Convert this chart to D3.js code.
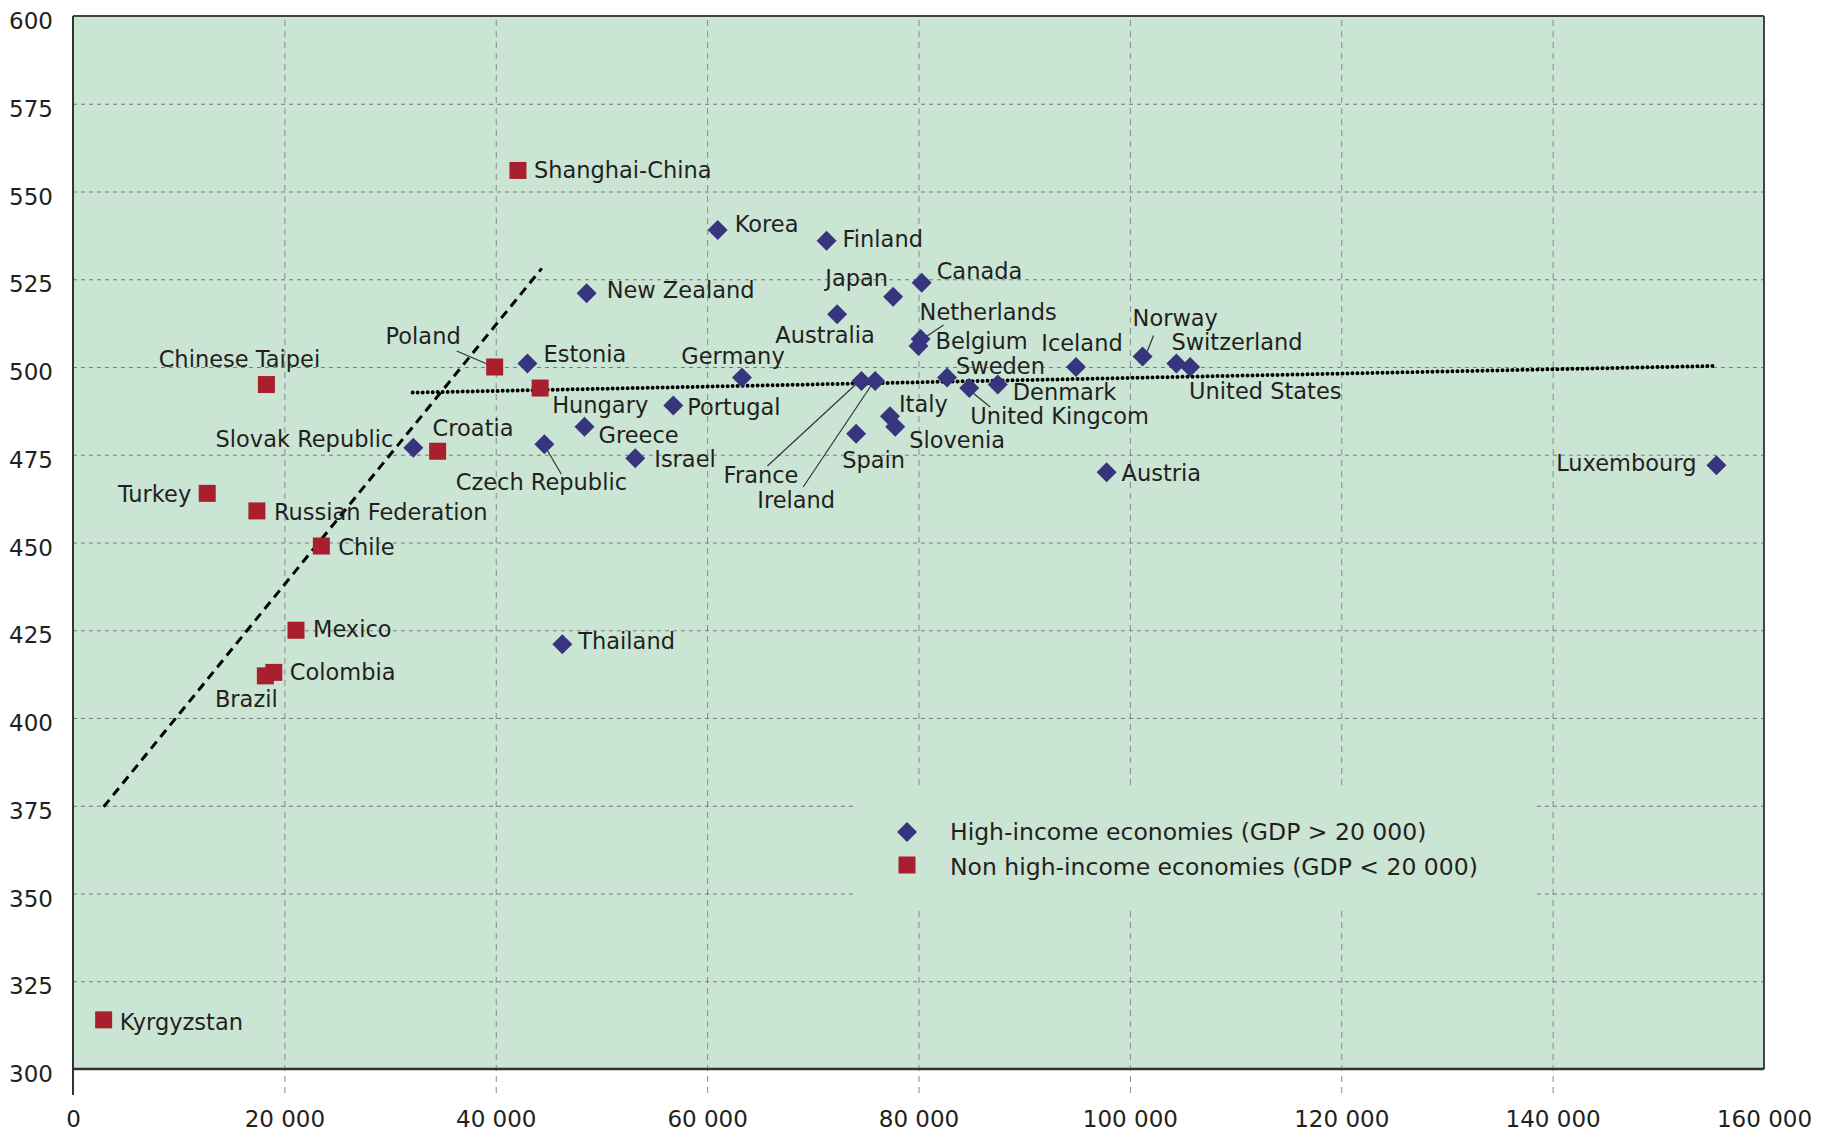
<!DOCTYPE html>
<html><head><meta charset="utf-8">
<script src="https://cdn.jsdelivr.net/npm/d3@7"></script>
<style>
html,body{margin:0;padding:0;background:#fff;}
text{font-family:"DejaVu Sans",sans-serif;fill:#231f20;}
</style></head>
<body>
<svg id="chart" width="1826" height="1138"></svg>
<script>
// ---------- data ----------
const highNames = ["Korea","Finland","Canada","Japan","New Zealand","Australia","Netherlands","Belgium","Norway","Estonia","Switzerland","United States","Iceland","Germany","Sweden","France","Ireland","Denmark","United Kingcom","Greece","Portugal","Czech Republic","Slovak Republic","Israel","Italy","Slovenia","Spain","Austria","Luxembourg","Thailand"];
const highGDP   = [61000,71300,80300,77600,48600,72300,80200,80000,101200,43000,104400,105700,94900,63300,82700,74600,75900,87500,84800,48400,56800,44600,32200,53200,77300,77800,74100,97800,155500,46300];
const highScore = [539,536,524,520,521,515,508,506,503,501,501,500,500,497,497,496,496,495,494,483,489,478,477,474,486,483,481,470,472,421];

const lowNames = ["Shanghai-China","Chinese Taipei","Poland","Hungary","Croatia","Turkey","Russian Federation","Chile","Mexico","Colombia","Brazil","Kyrgyzstan"];
const lowGDP   = [42100,18300,39900,44200,34500,12700,17400,23500,21100,19000,18200,2900];
const lowScore = [556,495,500,494,476,464,459,449,425,413,412,314];

const trendLow  = [[2900,374.7],[44350,528.1]];
const trendHigh = [[32140,492.7],[155270,500.3]];

const xTickValues = [0,20000,40000,60000,80000,100000,120000,140000,160000];
const xTickLabels = ["0","20 000","40 000","60 000","80 000","100 000","120 000","140 000","160 000"];
const yTickValues = [300,325,350,375,400,425,450,475,500,525,550,575,600];
const yTickLabels = ["300","325","350","375","400","425","450","475","500","525","550","575","600"];

const legendLabels = ["High-income economies (GDP > 20 000)","Non high-income economies (GDP < 20 000)"];

// ---------- label layout (pixel offsets from the marker) ----------
const labelLayout = {
 "Shanghai-China":[16,0,"start"],"Korea":[17,-6,"start"],"Finland":[16,-2,"start"],"Canada":[15,-12,"start"],
 "Japan":[-5,-19,"end"],"New Zealand":[20,-3,"start"],"Australia":[-12,21,"middle"],"Netherlands":[-1,-27,"start"],
 "Belgium":[17,-5,"start"],"Iceland":[6,-24,"middle"],"Norway":[-10,-38,"start"],"Switzerland":[-5,-21,"start"],
 "United States":[-1,24,"start"],"Estonia":[16,-9,"start"],"Poland":[-34,-31,"end"],"Chinese Taipei":[-27,-26,"middle"],
 "Germany":[-9,-22,"middle"],"Sweden":[9,-12,"start"],"Hungary":[12,17,"start"],"Portugal":[14,1,"start"],
 "Greece":[14,8,"start"],"Denmark":[15,7,"start"],"United Kingcom":[1,28,"start"],"Italy":[9,-12,"start"],
 "Slovenia":[14,13,"start"],"Spain":[-14,26,"start"],"France":[-63,94,"end"],"Ireland":[-40,119,"end"],
 "Israel":[19,1,"start"],"Czech Republic":[-3,38,"middle"],"Slovak Republic":[-20,-9,"end"],"Croatia":[-5,-23,"start"],
 "Austria":[15,1,"start"],"Luxembourg":[-20,-2,"end"],"Turkey":[-16,1,"end"],"Russian Federation":[17,1,"start"],
 "Chile":[17,1,"start"],"Mexico":[17,-1,"start"],"Colombia":[16,0,"start"],"Brazil":[-19,23,"middle"],
 "Thailand":[16,-3,"start"],"Kyrgyzstan":[16,2,"start"]
};
const leaderLayout = {
 "Poland":[-38,-16,-3,-1],"Netherlands":[23,-14,5,-2],"Norway":[11,-21,3,-1],"France":[-94,85,-3,1],
 "Ireland":[-72,106,-3,3],"United Kingcom":[0,2,21,19],"Czech Republic":[0,1,17,30]
};

// ---------- chart ----------
const W=1826,H=1138;
const L=73,R=1764,T=16,B=1069;
const bg="#cbe5d4", blue="#38357f", red="#a91f2d";
const svg=d3.select("#chart");
svg.append("rect").attr("width",W).attr("height",H).attr("fill","#fff");

const x=d3.scaleLinear().domain([0,160000]).range([L,R]);
const y=d3.scaleLinear().domain([300,600]).range([B,T]);

svg.append("rect").attr("x",L).attr("y",T).attr("width",R-L).attr("height",B-T).attr("fill",bg);

// vertical gridlines (extend below the axis as ticks)
const gx=svg.append("g").attr("transform",`translate(0,${B+24})`)
 .call(d3.axisBottom(x).tickValues(xTickValues.slice(1,-1)).tickSize(-(B-T+24)).tickFormat(""));
gx.select(".domain").remove();
gx.selectAll(".tick line").attr("stroke","#8a8a8a").attr("stroke-width",1).attr("stroke-dasharray","6,5");

// horizontal gridlines
const gy=svg.append("g").attr("transform",`translate(${L},0)`)
 .call(d3.axisLeft(y).tickValues(yTickValues.slice(1,-1)).tickSize(-(R-L)).tickFormat(""));
gy.select(".domain").remove();
gy.selectAll(".tick line").attr("stroke","#7a7a7a").attr("stroke-width",1.2).attr("stroke-dasharray","4,4");

// legend background (covers gridlines)
const lg=svg.append("g");
lg.append("rect").attr("x",856).attr("y",787).attr("width",679).attr("height",121).attr("fill",bg);

// tick labels
const xl=svg.append("g").attr("transform",`translate(0,${B})`)
 .call(d3.axisBottom(x).tickValues(xTickValues).tickSize(0).tickPadding(42).tickFormat((d,i)=>xTickLabels[i]));
xl.select(".domain").remove();
xl.selectAll("text").style("font-size","23px").attr("fill","#231f20");
const yl=svg.append("g").attr("transform",`translate(${L},0)`)
 .call(d3.axisLeft(y).tickValues(yTickValues).tickSize(0).tickPadding(20).tickFormat((d,i)=>yTickLabels[i]));
yl.select(".domain").remove();
yl.selectAll("text").style("font-size","23px").attr("fill","#231f20").attr("dy","0.55em");

// frame
svg.append("line").attr("x1",L).attr("x2",R).attr("y1",T).attr("y2",T).attr("stroke","#444").attr("stroke-width",2);
svg.append("line").attr("x1",R).attr("x2",R).attr("y1",T).attr("y2",B).attr("stroke","#444").attr("stroke-width",2);
svg.append("line").attr("x1",L).attr("x2",R).attr("y1",B).attr("y2",B).attr("stroke","#333").attr("stroke-width",2.5);
svg.append("line").attr("x1",L).attr("x2",L).attr("y1",T).attr("y2",B+26).attr("stroke","#333").attr("stroke-width",2);

// trend lines
const line=d3.line().x(d=>x(d[0])).y(d=>y(d[1]));
svg.append("path").attr("d",line(trendLow)).attr("fill","none").attr("stroke","#000").attr("stroke-width",3).attr("stroke-dasharray","9,6");
svg.append("path").attr("d",line(trendHigh)).attr("fill","none").attr("stroke","#000").attr("stroke-width",4).attr("stroke-linecap","round").attr("stroke-dasharray","0,5");

const high=highNames.map((n,i)=>({name:n,gdp:highGDP[i],score:highScore[i]}));
const low=lowNames.map((n,i)=>({name:n,gdp:lowGDP[i],score:lowScore[i]}));
const all=high.concat(low);

// leader lines
svg.append("g").selectAll("line").data(all.filter(d=>leaderLayout[d.name])).join("line")
 .attr("x1",d=>x(d.gdp)+leaderLayout[d.name][0]).attr("y1",d=>y(d.score)+leaderLayout[d.name][1])
 .attr("x2",d=>x(d.gdp)+leaderLayout[d.name][2]).attr("y2",d=>y(d.score)+leaderLayout[d.name][3])
 .attr("stroke","#333").attr("stroke-width",1.2);

// markers
const diamond="M0,-10L10,0L0,10L-10,0Z";
svg.append("g").selectAll("path").data(high).join("path")
 .attr("d",diamond).attr("transform",d=>`translate(${x(d.gdp)},${y(d.score)})`).attr("fill",blue);
svg.append("g").selectAll("rect").data(low).join("rect")
 .attr("x",d=>x(d.gdp)-8.5).attr("y",d=>y(d.score)-8.5).attr("width",17).attr("height",17).attr("fill",red);

// labels
svg.append("g").selectAll("text").data(all).join("text")
 .attr("x",d=>x(d.gdp)+labelLayout[d.name][0]).attr("y",d=>y(d.score)+labelLayout[d.name][1])
 .attr("text-anchor",d=>labelLayout[d.name][2]).attr("dominant-baseline","central")
 .style("font-size","22.5px").text(d=>d.name);

// legend
lg.append("path").attr("d",diamond).attr("transform","translate(907,832)").attr("fill",blue);
lg.append("rect").attr("x",898.5).attr("y",856.5).attr("width",17).attr("height",17).attr("fill",red);
lg.selectAll("text").data(legendLabels).join("text")
 .attr("x",950).attr("y",(d,i)=>832+i*35).attr("dominant-baseline","central")
 .style("font-size","23.5px").text(d=>d);
</script>
</body></html>
